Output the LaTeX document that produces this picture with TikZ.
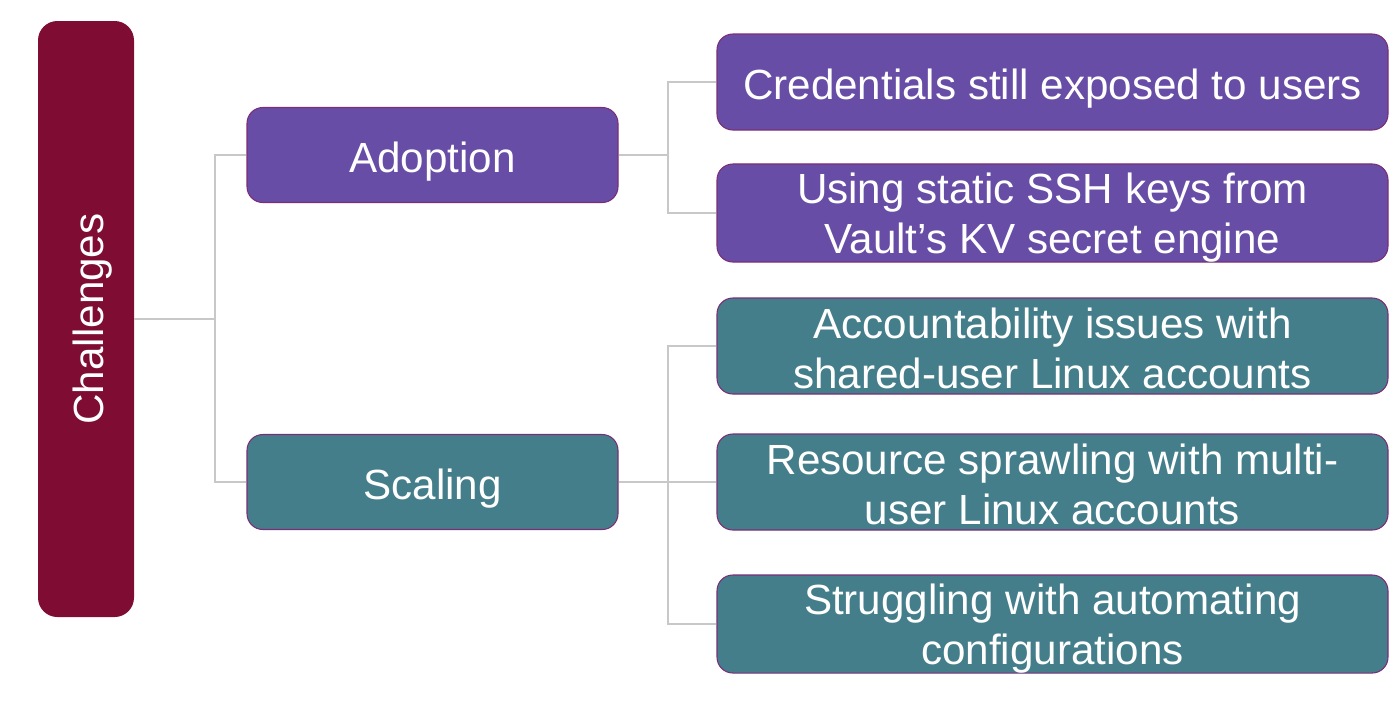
\documentclass[tikz,border=0pt]{standalone}
\usepackage{fontspec}
\setmainfont{Liberation Sans}
\usetikzlibrary{positioning,calc}
\usepackage{xcolor}
\definecolor{rootred}{HTML}{7E0C33}
\definecolor{boxpurple}{HTML}{674DA6}
\definecolor{boxteal}{HTML}{457E8B}
\definecolor{boxedge}{HTML}{7B2E77}
\definecolor{linegray}{HTML}{C8C8C8}
\newcommand\boxtop{\rule{0pt}{25pt}}
\newcommand\boxbot{\rule[-5.5pt]{0pt}{5.5pt}}
\newcommand\twotop{\rule{0pt}{22.5pt}}
\newcommand\twobot{\rule[-3pt]{0pt}{3pt}}

\begin{document}
\begin{tikzpicture}[
  every node/.style={rounded corners=9pt, align=center, text=white, inner sep=0pt,
    font=\fontsize{24}{28.3}\selectfont},
  rootbox/.style={fill=rootred, minimum width=1.92cm, minimum height=11.92cm, rounded corners=11pt},
  midbox/.style={draw=boxedge, line width=0.6pt, minimum width=7.42cm, minimum height=1.9cm},
  leafbox/.style={draw=boxedge, line width=0.6pt, minimum width=13.42cm, minimum height=1.92cm},
  conn/.style={draw=linegray, line width=0.6pt},
]
  \useasboundingbox (0,0) rectangle (28,-14.16);

  % Root
  \node[rootbox] (ch) at (1.72,-6.38) {\rotatebox{90}{\boxtop Challenges\boxbot}};

  % Middle level
  \node[midbox, fill=boxpurple] (ad) at (8.65,-3.10) {\boxtop Adoption\boxbot};
  \node[midbox, fill=boxteal] (sc) at (8.65,-9.64) {\boxtop Scaling\boxbot};

  % Leaves
  \node[leafbox, fill=boxpurple] (c1) at (21.05,-1.64) {\boxtop Credentials still exposed to users\boxbot};
  \node[leafbox, fill=boxpurple] (c2) at (21.05,-4.26) {\twotop Using static SSH keys from\\Vault’s KV secret engine\twobot};
  \node[leafbox, fill=boxteal] (c3) at (21.05,-6.92) {\twotop Accountability issues with\\shared-user Linux accounts\twobot};
  \node[leafbox, fill=boxteal] (c4) at (21.05,-9.64) {\twotop Resource sprawling with multi-\\user Linux accounts\twobot};
  \node[leafbox, fill=boxteal] (c5) at (21.05,-12.48) {\twotop Struggling with automating\\configurations\twobot};

  % Junctions
  \coordinate (j1) at (4.30,0);
  \coordinate (j2) at (13.36,0);

  % Connectors
  \draw[conn] (ch.east) -- (ch.east -| j1);
  \draw[conn] (ad.west) -| (j1 |- sc.west) -- (sc.west);
  \draw[conn] (ad.east) -- (ad.east -| j2);
  \draw[conn] (c1.west) -| (j2 |- c2.west) -- (c2.west);
  \draw[conn] (sc.east) -- (c4.west);
  \draw[conn] (c3.west) -| (j2 |- c5.west) -- (c5.west);
\end{tikzpicture}
\end{document}
